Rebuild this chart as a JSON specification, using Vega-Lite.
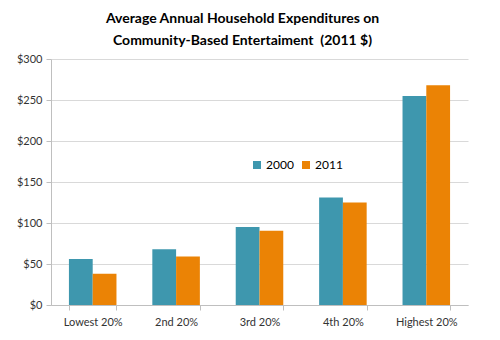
{
  "$schema": "https://vega.github.io/schema/vega-lite/v6.json",
  "autosize": {"type": "none"},
  "padding": {"left": 51, "top": 59, "right": 32, "bottom": 35},
  "width": 417,
  "height": 246,
  "background": "white",
  "title": {
    "text": ["Average Annual Household Expenditures on", "Community-Based Entertaiment \u00a0(2011 $)"],
    "font": "Lato",
    "fontSize": 14,
    "fontWeight": "bold",
    "color": "#000000",
    "anchor": "middle",
    "frame": "group",
    "dx": -17,
    "lineHeight": 22,
    "offset": 5
  },
  "data": {
    "values": [
      {"group": "Lowest 20%", "year": "2000", "value": 56},
      {"group": "Lowest 20%", "year": "2011", "value": 38},
      {"group": "2nd 20%", "year": "2000", "value": 68},
      {"group": "2nd 20%", "year": "2011", "value": 59},
      {"group": "3rd 20%", "year": "2000", "value": 95},
      {"group": "3rd 20%", "year": "2011", "value": 90.5},
      {"group": "4th 20%", "year": "2000", "value": 131},
      {"group": "4th 20%", "year": "2011", "value": 125},
      {"group": "Highest 20%", "year": "2000", "value": 255},
      {"group": "Highest 20%", "year": "2011", "value": 268}
    ]
  },
  "mark": {"type": "bar"},
  "encoding": {
    "x": {
      "field": "group",
      "type": "nominal",
      "sort": ["Lowest 20%", "2nd 20%", "3rd 20%", "4th 20%", "Highest 20%"],
      "scale": {"paddingInner": 0.43, "paddingOuter": 0.215},
      "axis": {
        "title": null,
        "labelAngle": 0,
        "labelFont": "Lato",
        "labelFontSize": 11,
        "labelColor": "#333333",
        "labelPadding": 6,
        "domainColor": "#bfbfbf",
        "tickColor": "#bfbfbf",
        "tickSize": 5,
        "tickBand": "extent",
        "grid": false
      }
    },
    "xOffset": {"field": "year", "type": "nominal"},
    "y": {
      "field": "value",
      "type": "quantitative",
      "scale": {"domain": [0, 300], "nice": false},
      "axis": {
        "title": null,
        "values": [0, 50, 100, 150, 200, 250, 300],
        "format": "$d",
        "labelFont": "Lato",
        "labelFontSize": 11,
        "labelColor": "#333333",
        "labelPadding": 4,
        "domainColor": "#bfbfbf",
        "tickColor": "#bfbfbf",
        "tickSize": 5,
        "gridColor": "#d9d9d9",
        "gridWidth": 1
      }
    },
    "color": {
      "field": "year",
      "type": "nominal",
      "scale": {"domain": ["2000", "2011"], "range": ["#3E97AE", "#EB8305"]},
      "legend": {
        "title": null,
        "orient": "none",
        "direction": "horizontal",
        "legendX": 200,
        "legendY": 100,
        "symbolType": "square",
        "symbolSize": 64,
        "symbolStrokeWidth": 0,
        "labelFont": "Lato",
        "labelFontSize": 12,
        "labelColor": "#000000",
        "columnPadding": 6,
        "labelOffset": 3
      }
    }
  },
  "config": {"view": {"stroke": null}}
}
